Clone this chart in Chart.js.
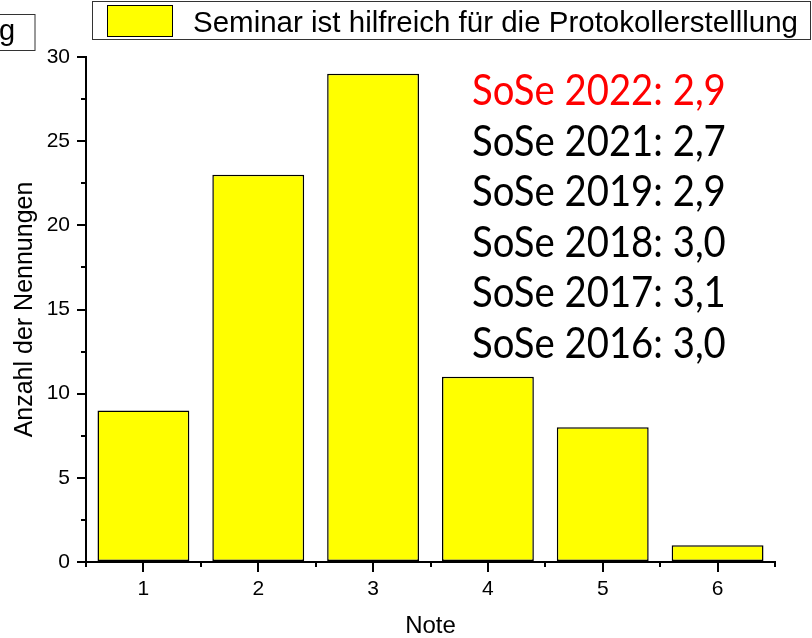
<!DOCTYPE html>
<html lang="de">
<head>
  <meta charset="UTF-8" />
  <title>Seminar ist hilfreich für die Protokollerstelllung</title>
  <style>
    body { margin: 0; background: #fff; }
    #wrap { width: 812px; height: 638px; }
  </style>
</head>
<body>
  <div id="wrap">
    <canvas id="myChart" width="812" height="638"></canvas>
  </div>

  <script src="https://cdn.jsdelivr.net/npm/chart.js"></script>
  <script>
    // data
    const notes = ['1', '2', '3', '4', '5', '6'];
    const counts = [9, 23, 29, 11, 8, 1];
    const seriesLabel = 'Seminar ist hilfreich für die Protokollerstelllung';
    const yMin = 0, yMax = 30, yStep = 5;
    const semesters = ['SoSe 2022: 2,9', 'SoSe 2021: 2,7', 'SoSe 2019: 2,9', 'SoSe 2018: 3,0', 'SoSe 2017: 3,1', 'SoSe 2016: 3,0'];
    const semesterColors = ['#ff0000', '#000', '#000', '#000', '#000', '#000'];

    const sans = '"Liberation Sans", Arial, sans-serif';
    Chart.defaults.font.family = sans;
    Chart.defaults.color = '#000';

    // minor ticks, legend box, annotations
    const extras = {
      id: 'extras',
      beforeDraw(chart) {
        const ctx = chart.ctx;
        ctx.save();
        ctx.fillStyle = '#fff';
        ctx.fillRect(0, 0, chart.width, chart.height);
        ctx.restore();
      },
      afterDraw(chart) {
        const ctx = chart.ctx;
        const x = chart.scales.x, y = chart.scales.y;
        const left = chart.chartArea.left, bottom = chart.chartArea.bottom;
        ctx.save();
        ctx.strokeStyle = '#000';
        ctx.lineWidth = 2;
        ctx.beginPath();
        for (let v = yMin + yStep / 2; v < yMax; v += yStep) {
          const py = Math.round(y.getPixelForValue(v));
          ctx.moveTo(left - 5, py);
          ctx.lineTo(left, py);
        }
        for (let i = 0; i <= notes.length; i++) {
          const px = Math.round(x.getPixelForValue(i - 0.5));
          ctx.moveTo(px, bottom);
          ctx.lineTo(px, bottom + 5);
        }
        ctx.stroke();

        // cut-off box at top left
        ctx.lineWidth = 1;
        ctx.strokeStyle = '#333';
        ctx.fillStyle = '#fff';
        ctx.fillRect(-2, 14.5, 37, 36);
        ctx.strokeRect(-2, 14.5, 37, 36);
        ctx.fillStyle = '#000';
        ctx.font = '29px ' + sans;
        ctx.textBaseline = 'alphabetic';
        ctx.textAlign = 'left';
        ctx.fillText('g', -1, 40);

        // legend box
        ctx.fillStyle = '#fff';
        ctx.fillRect(92.5, 1.5, 718, 38);
        ctx.strokeRect(92.5, 1.5, 718, 38);
        const ds = chart.data.datasets[0];
        ctx.fillStyle = ds.backgroundColor;
        ctx.fillRect(107.5, 5.5, 65, 31);
        ctx.strokeStyle = '#000';
        ctx.strokeRect(107.5, 5.5, 65, 31);
        ctx.fillStyle = '#000';
        ctx.font = '29px ' + sans;
        const lw = ctx.measureText(ds.label).width;
        ctx.font = (29 * 604 / lw).toFixed(1) + 'px ' + sans;
        ctx.fillText(ds.label, 193, 32);

        // semester averages
        ctx.font = '42px Lato, "Open Sans", sans-serif';
        const w = ctx.measureText(semesters[0]).width;
        const size = 42 * 254 / w;
        ctx.font = size.toFixed(1) + 'px Lato, "Open Sans", sans-serif';
        semesters.forEach((s, i) => {
          ctx.save();
          ctx.translate(472, 105 + i * 50.6);
          ctx.scale(1, 1.1);
          ctx.fillStyle = semesterColors[i];
          ctx.fillText(s, 0, 0);
          ctx.restore();
        });
        ctx.restore();
      }
    };

    new Chart(document.getElementById('myChart'), {
      type: 'bar',
      data: {
        labels: notes,
        datasets: [{
          label: seriesLabel,
          data: counts,
          backgroundColor: '#ffff00',
          borderColor: '#000',
          borderWidth: 1.5,
          borderSkipped: false,
          barPercentage: 0.8,
          categoryPercentage: 1.0
        }]
      },
      options: {
        responsive: false,
        animation: false,
        layout: { padding: { left: 0, top: 57, right: 37, bottom: 0 } },
        plugins: {
          legend: { display: false },
          tooltip: { enabled: false }
        },
        scales: {
          x: {
            offset: true,
            afterFit(scale) { scale.height = 76; },
            grid: { display: true, drawOnChartArea: false, drawTicks: true, tickLength: 10, offset: false, color: '#000', lineWidth: 2 },
            border: { display: true, color: '#000', width: 2 },
            ticks: { color: '#000', font: { size: 21 }, padding: 5 },
            title: { display: true, text: 'Note', color: '#000', font: { size: 24, lineHeight: 1 }, padding: 0 }
          },
          y: {
            min: yMin,
            max: yMax,
            afterFit(scale) { scale.width = 86; },
            grid: { display: true, drawOnChartArea: false, drawTicks: true, tickLength: 9, color: '#000', lineWidth: 2 },
            border: { display: true, color: '#000', width: 2 },
            ticks: { stepSize: yStep, color: '#000', font: { size: 21 }, padding: 7 },
            title: { display: true, text: 'Anzahl der Nennungen', color: '#000', font: { size: 25, lineHeight: 1 }, padding: { top: 13, bottom: 0 } }
          }
        }
      },
      plugins: [extras]
    });
  </script>
</body>
</html>
